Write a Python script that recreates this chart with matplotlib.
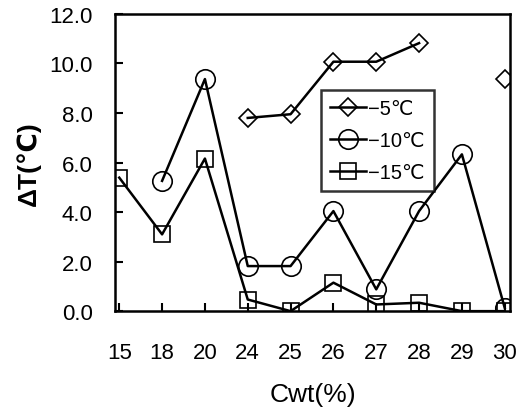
import matplotlib
matplotlib.use("Agg")
import matplotlib.pyplot as plt
import numpy as np

plt.rcParams['font.family'] = ['Liberation Sans', 'DejaVu Sans']

# concentrations (categorical axis)
cwt = ['15', '18', '20', '24', '25', '26', '27', '28', '29', '30']
nan = np.nan
dt_m5 = [nan, nan, nan, 7.8, 7.95, 10.07, 10.07, 10.82, nan, 9.37]
dt_m10 = [nan, 5.26, 9.37, 1.82, 1.82, 4.04, 0.88, 4.04, 6.33, 0.13]
dt_m15 = [5.39, 3.1, 6.16, 0.47, 0.0, 1.15, 0.27, 0.34, 0.0, 0.0]

fig = plt.figure(figsize=(5.25, 4.14), dpi=100)
ax = fig.add_axes([0.219, 0.246, 0.753, 0.718])

x = np.arange(len(cwt))
ax.plot(x, dt_m5, '-', color='black', lw=1.8, marker='D', ms=9,
        mfc='none', mec='black', mew=1.2, label='\u22125\u2103')
ax.plot(x, dt_m10, '-', color='black', lw=1.8, marker='o', ms=14,
        mfc='none', mec='black', mew=1.2, label='\u221210\u2103')
ax.plot(x, dt_m15, '-', color='black', lw=1.8, marker='s', ms=12,
        mfc='none', mec='black', mew=1.2, label='\u221215\u2103')

ax.set_xlim(-0.1, 9.13)
ax.set_ylim(0, 12)
ax.set_xticks(x)
ax.set_xticklabels(cwt)
ax.set_yticks(np.arange(0, 12.1, 2))
ax.set_yticklabels(['%.1f' % v for v in np.arange(0, 12.1, 2)])
ax.tick_params(direction='in', length=6, width=1.5)
ax.tick_params(axis='y', labelsize=16, pad=16)
ax.tick_params(axis='x', labelsize=16, pad=22)
for s in ax.spines.values():
    s.set_linewidth(1.8)

ax.set_ylabel('\u0394T(\u2103)', fontsize=19, fontweight='bold', labelpad=6)
ax.set_xlabel('Cwt(%)', fontsize=19, labelpad=14)

leg = ax.legend(loc='upper left', bbox_to_anchor=(0.52, 0.745), fontsize=14.5,
                frameon=True, fancybox=False, edgecolor='black',
                handlelength=1.8, handletextpad=0.1, borderpad=0.45,
                labelspacing=0.65, borderaxespad=0)
leg.get_frame().set_linewidth(1.8)

fig.savefig('out.png', dpi=100)
